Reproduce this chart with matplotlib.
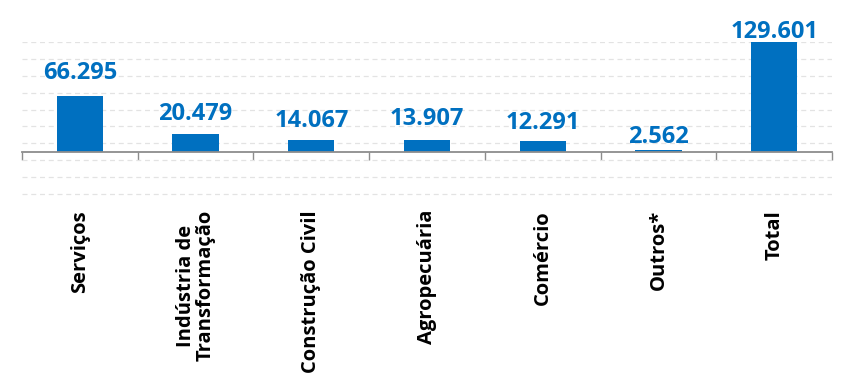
import matplotlib.pyplot as plt
import numpy as np

# dados
categorias = ["Serviços", "Indústria de\nTransformação", "Construção Civil",
              "Agropecuária", "Comércio", "Outros*", "Total"]
valores = [66295, 20479, 14067, 13907, 12291, 2562, 129601]
rotulos = ["66.295", "20.479", "14.067", "13.907", "12.291", "2.562", "129.601"]
# distancia (px) entre o topo da barra e o rotulo, como no original
folga_px = [17, 14, 13, 15, 12, 7, 4]

azul = "#0070C0"
cinza = "#8C8C8C"

fig = plt.figure(figsize=(8.48, 3.88), dpi=100)
ax = fig.add_axes([22 / 848, 1 - 196 / 388, 810 / 848, 154 / 388])

x = np.arange(len(categorias))
ax.bar(x, valores, width=0.4, color=azul, zorder=3)

ax.set_xlim(-0.5, len(categorias) - 0.5)
ax.set_ylim(-50000 - 2 * 180000 / 152, 130000)

# grade tracejada
ax.set_yticks(np.arange(-50000, 130001, 20000))
ax.yaxis.grid(True, color="#E3E3E3", linestyle=(0, (4, 3)), linewidth=0.9, zorder=0)
ax.tick_params(axis="y", left=False, labelleft=False)

for s in ["top", "left", "right"]:
    ax.spines[s].set_visible(False)
ax.spines["bottom"].set_position(("data", 0))
ax.spines["bottom"].set_color(cinza)
ax.spines["bottom"].set_linewidth(1.3)
ax.spines["bottom"].set_zorder(4)

# marcas entre categorias
ax.set_xticks(np.arange(-0.5, len(categorias), 1.0))
ax.tick_params(axis="x", direction="out", length=6, width=1, color=cinza, labelbottom=False)

for i, v in enumerate(valores):
    ax.annotate(rotulos[i], (i, v), xytext=(0, folga_px[i] * 0.72), textcoords="offset points",
                ha="center", va="baseline", color=azul, fontsize=17,
                fontweight="bold", family="Open Sans", annotation_clip=False)

for i, c in enumerate(categorias):
    ax.annotate(c, (i, 0), xycoords=("data", "axes fraction"), xytext=(0, -10),
                textcoords="offset points", rotation=90, ha="center", va="top",
                multialignment="center", fontsize=14.5, fontweight="bold",
                family="Open Sans", color="black", linespacing=1.0)

fig.savefig("out.png", dpi=100)
